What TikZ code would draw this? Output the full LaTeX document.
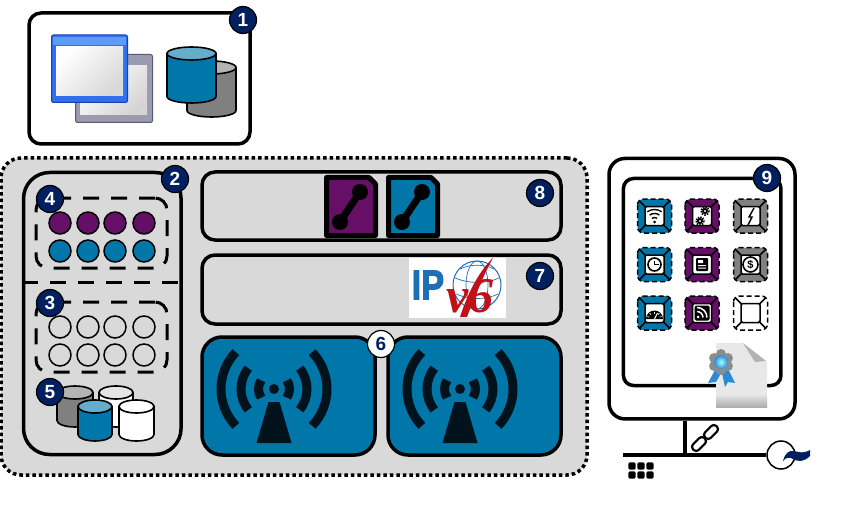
\documentclass[tikz,border=0pt]{standalone}
\usepackage{fontspec}
\setmainfont{Liberation Sans}
\newfontfamily\vfont{Liberation Serif}
\usetikzlibrary{shapes.geometric, calc, shadings}

\definecolor{navyc}{HTML}{002060}
\definecolor{tealc}{HTML}{0077A8}
\definecolor{teallight}{HTML}{66ADCB}
\definecolor{purplec}{HTML}{660F66}
\definecolor{panelc}{HTML}{D9D9D9}
\definecolor{grayc}{HTML}{808080}
\definecolor{graylight}{HTML}{B3B3B3}
\definecolor{ipblue}{HTML}{1F6FB5}
\definecolor{ipred}{HTML}{C01018}
\definecolor{antennac}{HTML}{00121C}
\definecolor{winblue}{HTML}{2F6FF0}
\definecolor{winedge}{HTML}{1A3FB0}
\definecolor{wintitle}{HTML}{5C9CF8}
\definecolor{backgray}{HTML}{9A9AB0}
\definecolor{backedge}{HTML}{5A5A6A}
\definecolor{medalc}{HTML}{2A8CD8}

\newcommand{\dbcyl}[6]{
\pgfmathsetmacro{\cylrx}{#3/2}
\pgfmathsetmacro{\cylbody}{#4-13}
\draw[line width=1.6pt, fill=#5] (#1,#2+6.5) -- ++(0,\cylbody) arc[start angle=180, end angle=0, x radius=\cylrx, y radius=6.5] -- ++(0,-\cylbody) -- cycle;
\draw[line width=1.6pt, fill=#6] (#1+\cylrx,#2+6.5) ellipse[x radius=\cylrx, y radius=6.5];
}
\newcommand{\antenna}[1]{
\begin{scope}[shift={(#1,389)}]
\fill[antennac] (0,0) circle(5);
\fill[antennac] (-5.5,13) -- (5.5,13) -- (17.5,54) -- (-17.5,54) -- cycle;
\foreach \rad/\ang in {15.5/34, 33/39, 53/44} {
\draw[antennac, line width=9pt] (180-\ang:\rad) arc[start angle=180-\ang, end angle=180+\ang, radius=\rad];
\draw[antennac, line width=9pt] (-\ang:\rad) arc[start angle=-\ang, end angle=\ang, radius=\rad];
}
\end{scope}
}

\begin{document}
\begin{tikzpicture}[x=1pt, y=-1pt,
panel/.style={draw, line width=3.5pt, rounded corners=#1, inner sep=0pt},
badge/.style={draw=black, line width=1.2pt, circle, fill=navyc, text=white, minimum width=27pt, inner sep=0pt, font=\bfseries\fontsize{19}{19}\selectfont},
dashbox/.style={draw, line width=3pt, rounded corners=12pt, dash pattern=on 16pt off 12pt, minimum width=131pt, minimum height=70pt, inner sep=0pt},
dot/.style={draw, line width=1.5pt, circle, minimum width=22pt, inner sep=0pt},
iconline/.style={line width=1.4pt},
]
\useasboundingbox (0,0) rectangle (841,516);

\node[panel=12pt, minimum width=221pt, minimum height=131pt] (clientbox) at (139.5,78.5) {};
\draw[backedge, line width=1pt, fill=backgray, rounded corners=2pt] (75.5,54.5) rectangle (152.5,122.5);
\shade[top color=white, bottom color=black!17, shading angle=45] (80,66) rectangle (147,115);
\draw[winedge, line width=1pt, fill=winblue, rounded corners=2pt] (51.5,35) rectangle (127.5,102.5);
\fill[wintitle] (53,37) rectangle (126,45);
\shade[top color=white, bottom color=black!15, shading angle=45] (56,47) rectangle (123,96);
\dbcyl{187}{61}{49}{56}{grayc}{graylight}
\dbcyl{167}{47}{49}{56}{tealc}{teallight}
\node[badge] (n1) at (243,20) {1};

\node[draw, fill=panelc, line width=3.5pt, rounded corners=20pt, dash pattern=on 3.5pt off 3pt, minimum width=586pt, minimum height=317pt, inner sep=0pt] (hubarea) at (294,316.5) {};

\node[panel=26pt, minimum width=157.5pt, minimum height=282pt] (platebox) at (102.3,313.5) {};
\draw[line width=3pt, dash pattern=on 16pt off 12pt] (platebox.west |- 0,282) -- (platebox.east |- 0,282);
\node[dashbox] (radiobox) at (101.5,233) {};
\node[dashbox] (freebox) at (101.5,337) {};
\foreach \cx in {60,88,115,144} {
\node[dot, fill=purplec] at (\cx,223) {};
\node[dot, fill=tealc] at (\cx,251) {};
\node[dot] at (\cx,327) {};
\node[dot] at (\cx,355) {};
}
\dbcyl{57}{386}{36}{41}{grayc}{graylight}
\dbcyl{99}{386}{34}{41}{white}{black!10}
\dbcyl{78}{400}{34}{41}{tealc}{teallight}
\dbcyl{119}{400}{35}{41}{white}{white}
\node[badge] (n2) at (175,179) {2};
\node[badge] (n4) at (50,199) {4};
\node[badge] (n3) at (50,303) {3};
\node[badge] (n5) at (50,392) {5};

\node[panel=13pt, minimum width=359pt, minimum height=68pt] (slicebox) at (381.5,206) {};
\foreach \dx/\col in {0/purplec, 62/tealc} {
\begin{scope}[shift={(\dx,0)}]
\draw[line width=5pt, line join=round, fill=\col] (326.5,177.5) -- (369,177.5) -- (375.5,184) -- (375.5,235.5) -- (326.5,235.5) -- cycle;
\fill (340,222) circle(8);
\fill (360,192) circle(8);
\draw[line width=7pt] (340,222) -- (360,192);
\end{scope}
}
\node[badge] (n8) at (540,193) {8};

\node[panel=13pt, minimum width=359pt, minimum height=69pt] (ipbox) at (381.5,289.5) {};
\fill[white] (409,258) rectangle (506,318);
\draw[ipblue, line width=1pt] (477,285) circle(24);
\draw[ipblue, line width=.7pt] (477,285) ellipse[x radius=11, y radius=24];
\draw[ipblue, line width=.7pt] (455,278) .. controls (470,284) and (486,284) .. (499,278);
\draw[ipblue, line width=.7pt] (456,294) .. controls (470,300) and (486,300) .. (498,294);
\draw[ipblue, line width=.7pt] (460,269) .. controls (470,264) and (484,264) .. (494,269);
\node[inner sep=0pt, anchor=west, text=ipblue, transform shape, xscale=.82, font=\bfseries\fontsize{42}{42}\selectfont\addfontfeatures{FakeBold=2.5}] (iptext) at (411.5,285) {IP};
\node[inner sep=0pt, anchor=west, text=ipred, font=\vfont\bfseries\itshape\fontsize{50}{50}\selectfont] (vsixtext) at (446,296) {v6};
\fill[ipred] (460,317) .. controls (468,292) and (480,270) .. (493,258) .. controls (484,274) and (475,296) .. (467,317) -- cycle;

\node[panel=20pt, draw=black, fill=tealc, minimum width=173pt, minimum height=118pt] (radioa) at (288.5,396) {};
\node[panel=20pt, draw=black, fill=tealc, minimum width=173pt, minimum height=118pt] (radiob) at (474.5,396) {};
\antenna{274}
\antenna{460}
\node[badge, fill=white, text=navyc] (n6) at (381,344) {6};
\node[badge] (n7) at (540,276) {7};

\node[panel=16pt, fill=white, minimum width=186pt, minimum height=260.5pt] (hostbox) at (702,288.7) {};
\node[panel=10pt, minimum width=157.5pt, minimum height=207pt] (nfbox) at (702.2,282) {};

\foreach \cx/\cy/\col in {654.5/216/tealc, 702/216/purplec, 750.5/216/grayc, 654.5/264.5/tealc, 702/264.5/purplec, 750.5/264.5/grayc, 654.5/313/tealc, 702/313/purplec, 750.5/313/white} {
\begin{scope}[shift={(\cx,\cy)}]
\draw[line width=1.5pt, fill=\col, rounded corners=6pt, dash pattern=on 5pt off 3pt] (-17,-17) rectangle (17,17);
\draw[line width=1.5pt] (-15,-15) -- (15,15) (-15,15) -- (15,-15);
\draw[line width=1.5pt, fill=white, rounded corners=1.5pt] (-9.5,-9.5) rectangle (9.5,9.5);
\end{scope}
}

\begin{scope}[shift={(654.5,222)}]
\fill (0,0) circle(1.5);
\foreach \rad in {4.5,8.5,12.5} {
\draw[iconline] (235:\rad) arc[start angle=235, end angle=305, radius=\rad];
}
\end{scope}
\foreach \gx/\gy/\grad in {705/211/3, 700/221/3} {
\fill (\gx,\gy) circle(\grad);
\draw[line width=1.8pt, dash pattern=on 1.4pt off 1.2pt] (\gx,\gy) circle(\grad+.9);
\fill[white] (\gx,\gy) circle(1.2);
}
\draw[iconline, line join=miter] (754,208) -- (749,217) -- (752,217) -- (748,225);
\draw[line width=1.6pt] (654.5,264.5) circle(6.5);
\draw[iconline] (654.5,260.5) -- (654.5,264.5) -- (658.5,264.5);
\fill[rounded corners=1pt] (696,258) rectangle (708,271);
\fill[white] (698,260) rectangle (703,263) (698,265) rectangle (706,266) (698,267.5) rectangle (706,268.5);
\draw[line width=1.6pt] (750.5,264.5) circle(7.5);
\node[inner sep=0pt, font=\bfseries\fontsize{11}{11}\selectfont] (dollar) at (750.5,264.5) {\$};
\fill (646,319) arc[start angle=180, end angle=360, radius=8.5] -- cycle;
\draw[white, line width=1pt] (654.5,319) -- (657.5,313);
\foreach \ang in {200,230,270,310,340} {
\draw[white, line width=.7pt] ($(654.5,319)+(\ang:5.5)$) -- ($(654.5,319)+(\ang:7.5)$);
}
\fill[rounded corners=1.5pt] (694.5,305.5) rectangle (709.5,320.5);
\fill[white] (698,317) circle(1.5);
\draw[white, line width=1.5pt] (697,311.5) arc[start angle=270, end angle=360, radius=6];
\draw[white, line width=1.5pt] (697,307.5) arc[start angle=270, end angle=360, radius=10];

\fill[black!9, rounded corners=1pt] (716,343) -- (743,343) -- (767,362) -- (767,407) -- (716,407) -- cycle;
\shade[top color=black!9, bottom color=black!32] (716,394) rectangle (767,407);
\fill[graylight] (743,343) -- (766,361) -- (755,362) -- cycle;
\fill[medalc] (715,370) -- (708,383) -- (716,382) -- (720,375) -- cycle;
\fill[medalc] (722,373) -- (725,387) -- (728,382) -- (735,383) -- (728,369) -- cycle;
\foreach \ang in {30,90,...,330} {
\fill[black!45] ($(721,362)+(\ang:8)$) circle(5);
}
\shade[inner color=cyan!35!white, outer color=medalc] (721,362) circle(7);
\node[badge] (n9) at (767,178) {9};

\coordinate (busleft) at (623,455);
\coordinate (bustap) at (685,455);
\node[draw, line width=1.5pt, circle, fill=white, minimum width=28pt, inner sep=0pt] (acsource) at (781,455) {};
\draw[line width=3.5pt] ([xshift=-17pt]hostbox.south) -- (bustap);
\draw[line width=3.5pt] (busleft) -- (acsource);
\fill[navyc] (783,461) .. controls (785,453) and (789,450) .. (794,451) .. controls (799,452) and (803,454) .. (810,450) -- (810,456) .. controls (804,462) and (798,462) .. (793,459) .. controls (790,457) and (786,457) .. (783,461) -- cycle;
\node[draw, line width=2.2pt, rounded corners=3.5pt, minimum width=16pt, minimum height=8pt, inner sep=0pt, rotate=45] (linka) at (699,444) {};
\node[draw, line width=2.2pt, rounded corners=3.5pt, minimum width=16pt, minimum height=8pt, inner sep=0pt, rotate=45] (linkb) at (711,432) {};
\foreach \cx in {632,641,650} {
\foreach \cy in {466,475} {
\fill[rounded corners=1.5pt] (\cx-3.7,\cy-3.7) rectangle (\cx+3.7,\cy+3.7);
}
}
\end{tikzpicture}
\end{document}
